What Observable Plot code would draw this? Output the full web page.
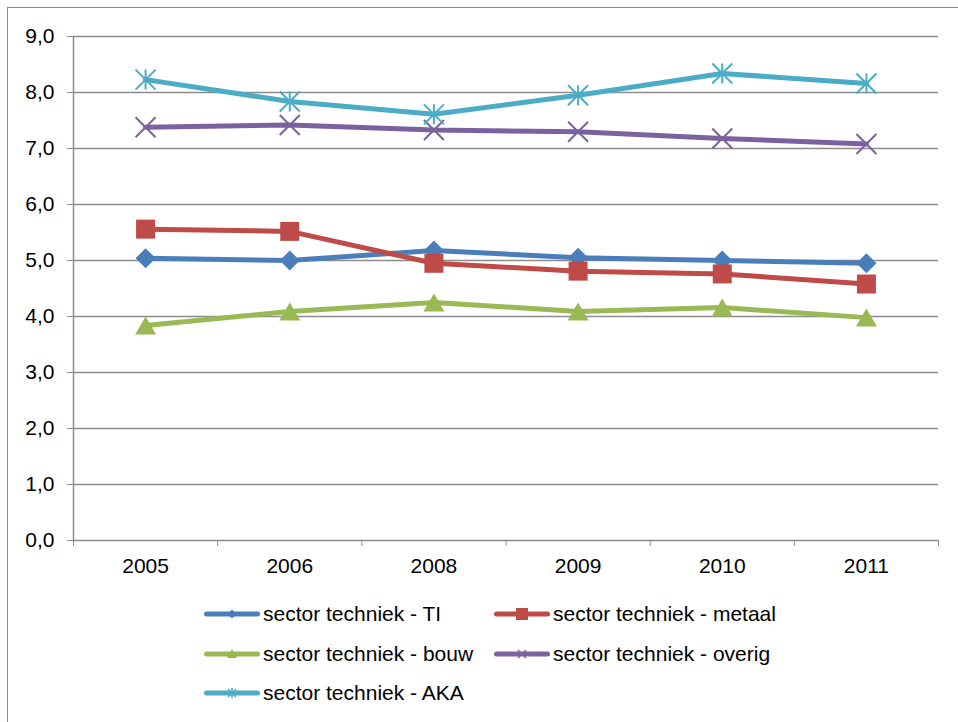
<!DOCTYPE html>
<html><head><meta charset="utf-8">
<script src="https://cdn.jsdelivr.net/npm/d3@7"></script>
<script src="https://cdn.jsdelivr.net/npm/@observablehq/plot@0.6"></script>
<style>
html,body{margin:0;padding:0;background:#fff;overflow:hidden;width:958px;height:722px;}
body{font-family:"Liberation Sans",Arial,sans-serif;}
#frame{position:absolute;left:7px;top:7px;width:1000px;height:800px;border:1.5px solid #8c8c8c;box-sizing:border-box;}
#fig{position:absolute;left:0;top:0;width:958px;height:722px;}
#chart svg{display:block;}
.lg{position:absolute;height:28px;display:flex;align-items:center;font-size:21px;color:#000;white-space:nowrap;}
.lg svg{display:block;margin-right:3px;}
</style></head><body>
<div id="frame"></div>
<div id="fig"><div id="chart"></div><div id="legend"></div></div>
<script>
// ---- data ----
const years = ["2005", "2006", "2008", "2009", "2010", "2011"];
const seriesNames = ["sector techniek - TI", "sector techniek - metaal", "sector techniek - bouw", "sector techniek - overig", "sector techniek - AKA"];
const seriesColors = ["#4A7EBB", "#BE4B48", "#98B954", "#7D60A0", "#4BACC6"];
const valuesTI     = [5.04, 5.00, 5.18, 5.05, 5.00, 4.95];
const valuesMetaal = [5.56, 5.52, 4.95, 4.81, 4.76, 4.58];
const valuesBouw   = [3.84, 4.09, 4.25, 4.09, 4.16, 3.98];
const valuesOverig = [7.38, 7.42, 7.33, 7.30, 7.18, 7.08];
const valuesAKA    = [8.23, 7.84, 7.61, 7.95, 8.34, 8.16];
const yTicks = [0, 1, 2, 3, 4, 5, 6, 7, 8, 9];

// ---- marker shapes (Excel-like) ----
const hs = s => Math.sqrt(s / Math.PI);
const symbols = {
  diamond: {draw(c, s) { const h = hs(s); c.moveTo(0, -h); c.lineTo(h, 0); c.lineTo(0, h); c.lineTo(-h, 0); c.closePath(); }},
  square: {draw(c, s) { const h = hs(s); c.rect(-h, -h, 2 * h, 2 * h); }},
  triangle: {draw(c, s) { const h = hs(s); c.moveTo(0, -0.9 * h); c.lineTo(1.05 * h, 0.9 * h); c.lineTo(-1.05 * h, 0.9 * h); c.closePath(); }},
  times: {draw(c, s) { const h = hs(s); c.moveTo(-h, -h); c.lineTo(h, h); c.moveTo(-h, h); c.lineTo(h, -h); }},
  star: {draw(c, s) { const h = hs(s); c.moveTo(-h, -h); c.lineTo(h, h); c.moveTo(-h, h); c.lineTo(h, -h); c.moveTo(0, -h); c.lineTo(0, h); }}
};
const seriesValues = [valuesTI, valuesMetaal, valuesBouw, valuesOverig, valuesAKA];
const seriesSymbols = ["diamond", "square", "triangle", "times", "star"];
const seriesR = [10, 9.5, 10, 10, 10];

const series = seriesNames.map((name, k) => ({
  name, color: seriesColors[k], symbol: seriesSymbols[k], r: seriesR[k],
  data: seriesValues[k].map((v, i) => ({i, year: years[i], v}))
}));

const gray = "#8c8c8c";
const fmt = d => d.toFixed(1).replace(".", ",");
const boundaries = d3.range(years.length + 1).map(i => i - 0.5);

const marks = [
  Plot.ruleY(yTicks, {stroke: gray, strokeWidth: 1.5}),
  Plot.ruleX([boundaries[0]], {stroke: gray, strokeWidth: 1.5}),
  Plot.axisY({ticks: yTicks, tickSize: 6, tickPadding: 13, tickFormat: fmt, fontSize: 21, stroke: gray, fill: "#000", label: null}),
  Plot.axisX({ticks: boundaries, tickSize: 6, stroke: gray, fill: "none", label: null}),
  Plot.axisX({ticks: d3.range(years.length), tickSize: 0, tickPadding: 18, tickFormat: i => years[i], fontSize: 21, fill: "#000", label: null})
];
for (const s of series) {
  marks.push(Plot.line(s.data, {x: "i", y: "v", stroke: s.color, strokeWidth: 5, strokeLinejoin: "round", strokeLinecap: "round"}));
  const stroked = s.symbol === "times" || s.symbol === "star";
  marks.push(Plot.dot(s.data, {
    x: "i", y: "v", symbol: symbols[s.symbol], r: s.r,
    fill: stroked ? "none" : s.color,
    stroke: stroked ? s.color : "none",
    strokeWidth: 2
  }));
}

const chart = Plot.plot({
  width: 958,
  height: 590,
  marginLeft: 73,
  marginRight: 20,
  marginTop: 36,
  marginBottom: 50,
  style: {fontFamily: '"Liberation Sans", Arial, sans-serif', background: "transparent", overflow: "visible"},
  x: {type: "linear", domain: [boundaries[0], boundaries[boundaries.length - 1]]},
  y: {domain: [0, 9]},
  marks
});
document.getElementById("chart").appendChild(chart);

// ---- legend ----
const legendMarker = {
  diamond: c => `<path d="M28,2.5L32.5,7L28,11.5L23.5,7Z" fill="${c}"/>`,
  square: c => `<rect x="22" y="1" width="12" height="12" fill="${c}"/>`,
  triangle: c => `<path d="M28,2L33,11L23,11Z" fill="${c}"/>`,
  times: c => `<path d="M24,3L32,11M24,11L32,3" stroke="${c}" stroke-width="1.5" fill="none"/>`,
  star: c => `<path d="M24,3L32,11M24,11L32,3M28,2L28,12" stroke="${c}" stroke-width="1.5" fill="none"/>`
};
const legendPos = [[204, 600], [494, 600], [204, 640], [494, 640], [204, 679]];
const legend = document.getElementById("legend");
series.forEach((s, k) => {
  const d = document.createElement("div");
  d.className = "lg";
  d.style.left = legendPos[k][0] + "px";
  d.style.top = legendPos[k][1] + "px";
  d.innerHTML = `<svg width="56" height="14" viewBox="0 0 56 14"><line x1="2.5" y1="7" x2="53.5" y2="7" stroke="${s.color}" stroke-width="5" stroke-linecap="round"/>${legendMarker[s.symbol](s.color)}</svg><span>${s.name}</span>`;
  legend.appendChild(d);
});
</script>
</body></html>
